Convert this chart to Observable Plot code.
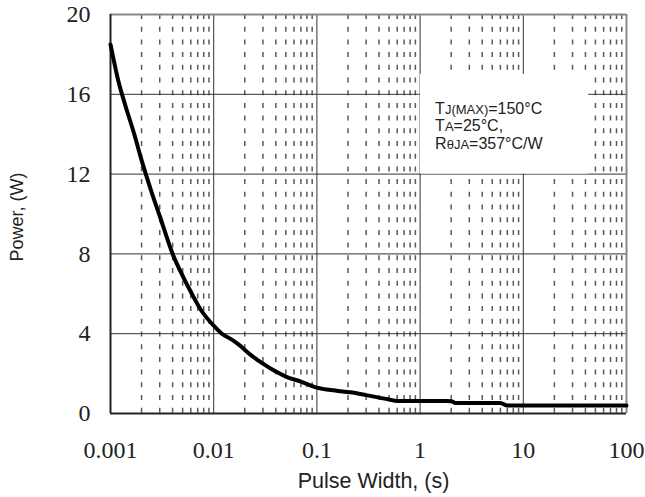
<!DOCTYPE html>
<html>
<head>
<meta charset="utf-8">
<script src="https://cdn.jsdelivr.net/npm/d3@7"></script>
<script src="https://cdn.jsdelivr.net/npm/@observablehq/plot@0.6"></script>
<style>
  html, body { margin: 0; padding: 0; background: #fff; }
</style>
</head>
<body>
<div id="chart"></div>
<script>
// ---- data ----
const pulseWidth = [0.001, 0.0012, 0.0014, 0.0017, 0.002, 0.0025, 0.003, 0.004, 0.005, 0.006, 0.0075,
  0.01, 0.012, 0.015, 0.018, 0.022, 0.03, 0.04, 0.05, 0.07, 0.1, 0.15, 0.21, 0.3, 0.38, 0.5, 0.6,
  1, 2, 2.2, 6, 7, 100];
const power = [18.5, 16.6, 15.4, 14.0, 12.7, 11.1, 9.9, 8.0, 6.9, 6.1, 5.2,
  4.4, 4.0, 3.7, 3.4, 3.0, 2.5, 2.1, 1.85, 1.6, 1.3, 1.15, 1.06, 0.92, 0.82, 0.7, 0.63,
  0.63, 0.62, 0.53, 0.53, 0.4, 0.4];

const decadeTicks = [0.001, 0.01, 0.1, 1, 10, 100];
const decadeLabels = ["0.001", "0.01", "0.1", "1", "10", "100"];
const minorMultipliers = [2, 3, 4, 5, 6, 7, 8, 9];
const powerTicks = [0, 4, 8, 12, 16, 20];
const powerLabels = ["0", "4", "8", "12", "16", "20"];

const xTitle = "Pulse Width, (s)";
const yTitle = "Power, (W)";
const annotationLines = [
  [["T", 0], ["J(MAX)", 1], ["=150°C", 0]],
  [["T", 0], ["A", 1], ["=25°C,", 0]],
  [["R", 0], ["θJA", 1], ["=357°C/W", 0]]
];

// ---- derived tables ----
const curve = pulseWidth.map((x, i) => ({x, y: power[i]}));
const minorTicks = decadeTicks.slice(0, -1).flatMap(d => minorMultipliers.map(m => d * m));
const annotationStrings = annotationLines.map(l => l.map(p => p[0]).join(""));

const serif = "'Liberation Serif', 'Times New Roman', serif";
const sans = "'Liberation Sans', Arial, sans-serif";

const svg = Plot.plot({
  width: 645,
  height: 497,
  marginLeft: 110,
  marginRight: 19,
  marginTop: 14,
  marginBottom: 84,
  x: {type: "log", domain: [0.001, 100]},
  y: {domain: [0, 20]},
  marks: [
    // dashed minor verticals
    Plot.ruleX(minorTicks, {stroke: "#5a5a5a", strokeWidth: 1.5, strokeDasharray: "5,7.7"}),
    // decade verticals
    Plot.ruleX(decadeTicks.slice(1, -1), {stroke: "#333", strokeWidth: 1}),
    // horizontal grid
    Plot.ruleY(powerTicks.slice(1, -1), {stroke: "#333", strokeWidth: 1}),
    // annotation box
    Plot.rect([{x1: 1.006, x2: 43, y1: 12, y2: 17}], {x1: "x1", x2: "x2", y1: "y1", y2: "y2", fill: "white"}),
    Plot.text([annotationStrings.join("\n")], {
      x: [1], y: [17], dx: 15, dy: 27, text: d => d,
      textAnchor: "start", lineAnchor: "top", lineHeight: 1.1,
      fontSize: 16, fontFamily: sans, fill: "#222"
    }),
    // frame
    Plot.ruleY([20], {stroke: "#888", strokeWidth: 2}),
    Plot.ruleX([100], {stroke: "#888", strokeWidth: 2}),
    Plot.ruleY([0], {stroke: "#222", strokeWidth: 2}),
    Plot.ruleX([0.001], {stroke: "#222", strokeWidth: 2}),
    // curve
    Plot.line(curve, {x: "x", y: "y", stroke: "black", strokeWidth: 4, strokeLinejoin: "round", curve: "monotone-x"}),
    // axes
    Plot.axisX(decadeTicks, {
      anchor: "bottom",
      tickSize: 0, tickPadding: 27, tickFormat: d => decadeLabels[decadeTicks.indexOf(d)],
      fontSize: 24, fontFamily: serif, fill: "#222", label: null
    }),
    Plot.axisY(powerTicks, {
      anchor: "left",
      tickSize: 0, tickPadding: 20, tickFormat: d => powerLabels[powerTicks.indexOf(d)],
      fontSize: 24, fontFamily: serif, fill: "#222", label: null
    }),
    Plot.text([xTitle], {frameAnchor: "bottom", textAnchor: "middle", dx: 5, dy: 74, text: d => d, fontSize: 21.5, fontFamily: sans, fill: "#222"}),
    Plot.text([yTitle], {frameAnchor: "left", textAnchor: "middle", rotate: -90, dx: -93, dy: 3, text: d => d, fontSize: 18, fontFamily: sans, fill: "#222"})
  ]
});

// subscript styling for the annotation
d3.select(svg).selectAll("tspan").each(function() {
  const idx = annotationStrings.indexOf(this.textContent);
  if (idx < 0) return;
  const t = d3.select(this);
  t.text(null);
  annotationLines[idx].forEach(([s, sub]) => {
    t.append("tspan").attr("font-size", sub ? 13 : 16).text(s);
  });
});

document.getElementById("chart").appendChild(svg);
</script>
</body>
</html>
